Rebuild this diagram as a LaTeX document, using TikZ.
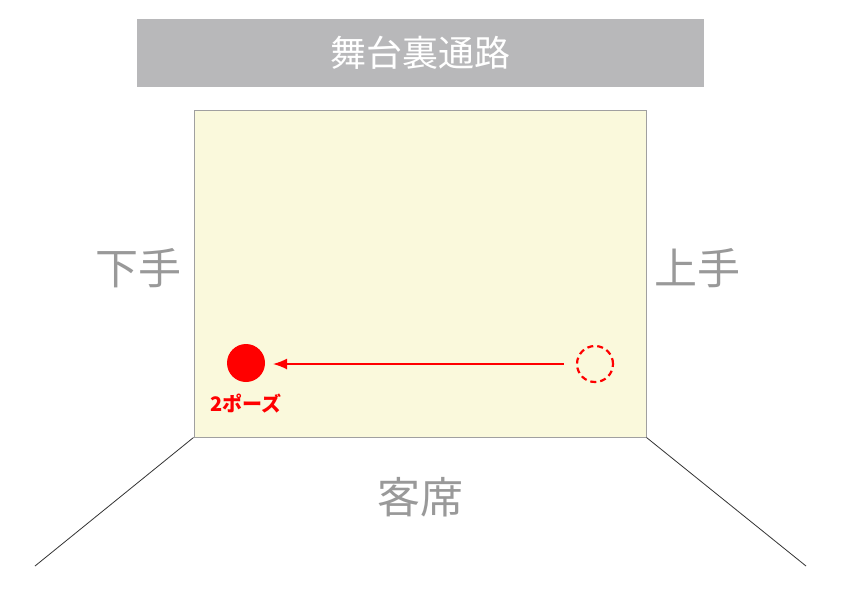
\documentclass[tikz,border=0pt]{standalone}
\usepackage{fontspec}
\newfontfamily\jp{Noto Sans CJK JP}
\usetikzlibrary{arrows.meta}
\definecolor{bannergray}{HTML}{B8B8BA}
\definecolor{stagefill}{HTML}{FAF9DC}
\definecolor{stageline}{HTML}{A0A0A0}
\definecolor{labelgray}{HTML}{999999}
\definecolor{poseRed}{HTML}{FF0000}
\tikzset{
  sidelabel/.style={font=\jp\fontsize{43}{43}\selectfont, text=labelgray, inner sep=0pt},
  pose/.style={circle, minimum size=38pt, inner sep=0pt},
}
\begin{document}
\begin{tikzpicture}[x=1pt,y=-1pt]
\useasboundingbox[fill=white] (0,0) rectangle (842,595);
\node[fill=bannergray, minimum width=567pt, minimum height=68pt, inner sep=0pt,
  text=white, font=\jp\fontsize{36}{36}\selectfont] (banner) at (420.5,53) {舞台裏通路};
\node[draw=stageline, line width=1pt, fill=stagefill, minimum width=452pt, minimum height=327pt, inner sep=0pt] (stage) at (420,273.5) {};
\coordinate (aud1) at (35,566);
\coordinate (aud2) at (806,566);
\draw[line width=0.8pt, draw=black!80] (stage.south west) -- (aud1);
\draw[line width=0.8pt, draw=black!80] (stage.south east) -- (aud2);
\node[sidelabel] (shimote) at (138,268) {下手};
\node[sidelabel] (kamite) at (697,268) {上手};
\node[sidelabel] (kyakuseki) at (420,497) {客席};
\node[pose, fill=poseRed] (posA) at (246,363) {};
\node[pose, draw=poseRed, dash pattern=on 6pt off 4pt, line width=2.2pt, minimum size=36pt] (posB) at (595,364) {};
\draw[-{Latex[length=14pt,width=11pt]}, draw=poseRed, fill=poseRed, line width=1.6pt] (posB.west) ++(-12,0) coordinate (arrS) -- (273,364) coordinate (arrE);
\node[text=poseRed, font=\jp\bfseries\fontsize{20}{20}\selectfont, inner sep=0pt] (poselabel) at (246,404) {2ポーズ};
\end{tikzpicture}
\end{document}
